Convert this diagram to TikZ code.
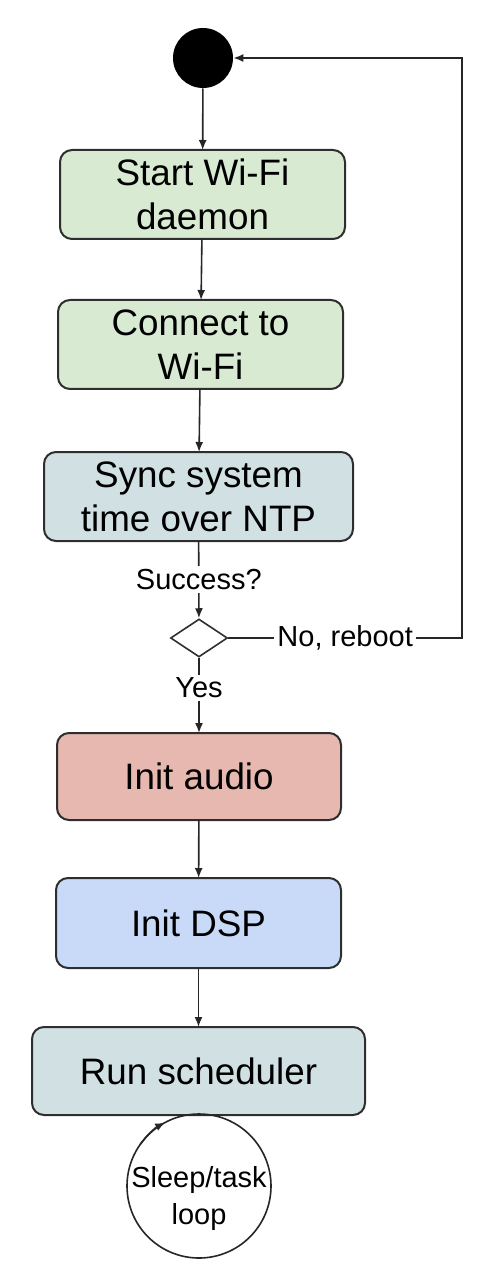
\documentclass[tikz,border=0pt]{standalone}
\usepackage{fontspec}
\setmainfont{Liberation Sans}
\usetikzlibrary{shapes.geometric,arrows.meta}
\definecolor{greenfill}{HTML}{D9EAD3}
\definecolor{tealfill}{HTML}{D0E0E3}
\definecolor{redfill}{HTML}{E6B8AF}
\definecolor{bluefill}{HTML}{C9DAF8}
\definecolor{edge}{HTML}{2E2E2E}
\begin{document}
\begin{tikzpicture}[x=0.5pt,y=-0.5pt,
  box/.style={draw=edge, line width=1pt, rounded corners=6pt, align=center,
    font=\fontsize{18.4}{22}\selectfont, inner sep=0pt, outer sep=0pt, minimum height=44.5pt},
  lbl/.style={font=\fontsize{14.5}{17.5}\selectfont, fill=white, inner sep=1.5pt},
  flow/.style={draw=black!85, line width=0.8pt, -{Latex[length=5pt,width=4pt]}}]
\useasboundingbox (0,0) rectangle (502,1272);
\node[circle, fill=black, minimum size=30pt, inner sep=0pt] (init) at (203,58) {};
\node[box, fill=greenfill, minimum width=142.5pt] (start) at (202.5,194.5) {Start Wi-Fi\\daemon};
\node[box, fill=greenfill, minimum width=142.5pt] (connect) at (200.5,344.5) {Connect to\\Wi-Fi};
\node[box, fill=tealfill, minimum width=154.5pt] (sync) at (198.5,496.5) {Sync system\\time over NTP};
\node[diamond, draw=edge, line width=0.8pt, minimum width=28.5pt, minimum height=19pt, inner sep=0pt] (dec) at (199,638) {};
\node[box, fill=redfill, minimum width=142pt, minimum height=43.5pt] (audio) at (199,776.5) {Init audio};
\node[box, fill=bluefill, minimum width=142.5pt, minimum height=45pt] (dsp) at (198.5,923) {Init DSP};
\node[box, fill=tealfill, minimum width=166.5pt, minimum height=44pt] (run) at (198.5,1071) {Run scheduler};
\node[circle, draw=black!85, line width=0.8pt, minimum size=72pt, inner sep=0pt, outer sep=0pt] (loop) at (199,1186) {};
\node[align=center, inner sep=0pt, font=\fontsize{14.5}{18.5}\selectfont] (looptext) at (199,1198) {Sleep/task\\loop};
\coordinate (corner) at (462,638);

\draw[flow] (init) -- (start);
\draw[flow] (start) -- (connect);
\draw[flow] (connect) -- (sync);
\draw[flow] (sync) -- node[lbl]{Success?} (dec);
\draw[flow] (dec) -- node[lbl, pos=0.4]{Yes} (audio);
\draw[flow] (audio) -- (dsp);
\draw[flow] (dsp) -- (run);
\draw[flow] (dec.east) -- node[lbl]{No, reboot} (corner) |- (init);
\draw[line width=0.8pt, draw=black!85, -{Latex[length=5pt,width=4pt]}] (loop.145) arc[start angle=145, end angle=118, radius=36pt];
\end{tikzpicture}
\end{document}
